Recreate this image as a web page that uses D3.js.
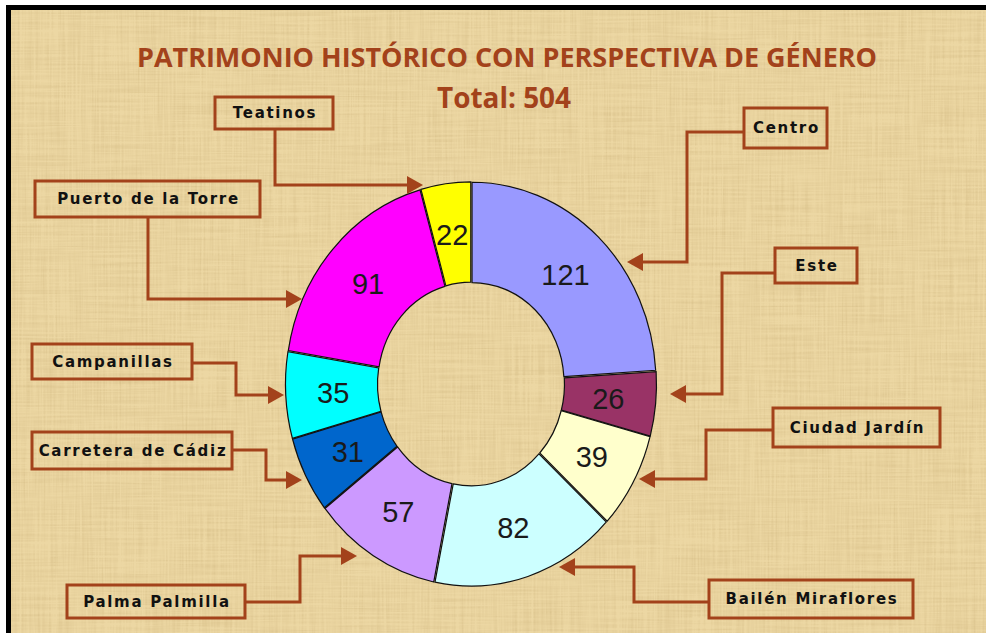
<!DOCTYPE html>
<html>
<head>
<meta charset="utf-8">
<script src="https://cdn.jsdelivr.net/npm/d3@7"></script>
<style>
  html, body { margin: 0; padding: 0; background: #fff; }
  svg { display: block; }
</style>
</head>
<body>
<svg id="chart" width="986" height="633"></svg>
<script>
// data
const districts = ["Centro", "Este", "Ciudad Jardín", "Bailén Miraflores", "Palma Palmilla",
  "Carretera de Cádiz", "Campanillas", "Puerto de la Torre", "Teatinos"];
const counts = [121, 26, 39, 82, 57, 31, 35, 91, 22];
const colors = ["#9999ff", "#993366", "#ffffcc", "#ccffff", "#cc99ff",
  "#0066cc", "#00ffff", "#ff00ff", "#ffff00"];
const title = "PATRIMONIO HISTÓRICO CON PERSPECTIVA DE GÉNERO";

// callout layout: box [x, y, w, h] and elbow route ending at the arrow tip
const callouts = [
  { box: [744, 108, 83, 40],  route: [[744, 132], [687, 132], [687, 262], [627, 262]] },
  { box: [775, 248, 82, 35],  route: [[775, 273], [722, 273], [722, 394], [670, 394]] },
  { box: [773, 408, 167, 39], route: [[773, 430], [706, 430], [706, 479], [639, 479]] },
  { box: [709, 580, 204, 38], route: [[709, 602], [634, 602], [634, 567], [559, 567]] },
  { box: [67, 585, 178, 33],  route: [[245, 602], [300, 602], [300, 556], [357, 556]] },
  { box: [32, 432, 200, 37],  route: [[232, 450], [266, 450], [266, 480], [302, 480]] },
  { box: [32, 344, 160, 35],  route: [[192, 363], [236, 363], [236, 395], [284, 395]] },
  { box: [35, 181, 225, 36],  route: [[148, 217], [148, 299], [302, 299]] },
  { box: [215, 97, 118, 32],  route: [[275, 129], [275, 185], [423, 185]] }
];

const W = 986, H = 633;
const rust = "#a3421b";
const cx = 471, cy = 384, rOuter = 184, rInner = 92, yScale = 1.09;

const svg = d3.select("#chart");
const defs = svg.append("defs");

// parchment texture
const f = defs.append("filter").attr("id", "paper")
  .attr("x", 0).attr("y", 0).attr("width", "100%").attr("height", "100%");
f.append("feTurbulence").attr("type", "fractalNoise").attr("baseFrequency", "0.5 0.012")
  .attr("numOctaves", 3).attr("seed", 4).attr("result", "v");
f.append("feTurbulence").attr("type", "fractalNoise").attr("baseFrequency", "0.012 0.5")
  .attr("numOctaves", 3).attr("seed", 9).attr("result", "h");
f.append("feComposite").attr("in", "v").attr("in2", "h").attr("operator", "arithmetic")
  .attr("k2", 0.5).attr("k3", 0.5).attr("result", "n");
f.append("feColorMatrix").attr("in", "n").attr("type", "matrix")
  .attr("values", "0 0 0 0 0.62  0 0 0 0 0.46  0 0 0 0 0.2  1.2 0 0 0 -0.45")
  .attr("result", "tint");
const fm = f.append("feMerge");
fm.append("feMergeNode").attr("in", "SourceGraphic");
fm.append("feMergeNode").attr("in", "tint");

defs.append("marker").attr("id", "arrow")
  .attr("viewBox", "0 0 16 18").attr("refX", 8).attr("refY", 9)
  .attr("markerWidth", 16).attr("markerHeight", 18)
  .attr("markerUnits", "userSpaceOnUse").attr("orient", "auto")
  .append("path").attr("d", "M0,0L16,9L0,18Z").attr("fill", rust);

// frame
svg.append("rect").attr("x", 6).attr("y", 5).attr("width", W - 6).attr("height", H - 5).attr("fill", "#000");
svg.append("rect").attr("x", 11).attr("y", 10).attr("width", W - 11).attr("height", H - 10)
  .attr("fill", "#ecd7a3").attr("filter", "url(#paper)");

// titles
svg.append("text").attr("x", 507).attr("y", 67).attr("text-anchor", "middle")
  .attr("textLength", 740).attr("lengthAdjust", "spacingAndGlyphs")
  .style("font", "bold 27px 'Liberation Sans Narrow', 'Open Sans', sans-serif")
  .attr("fill", rust).text(title);
svg.append("text").attr("x", 504).attr("y", 108).attr("text-anchor", "middle")
  .attr("textLength", 134).attr("lengthAdjust", "spacingAndGlyphs")
  .style("font", "bold 28px 'Liberation Sans Narrow', 'Open Sans', sans-serif")
  .attr("fill", rust).text("Total: " + d3.sum(counts));

// donut
const pie = d3.pie().sort(null).value(d => d);
const arcs = pie(counts);
const arc = d3.arc().innerRadius(rInner).outerRadius(rOuter);
const labelArc = d3.arc().innerRadius((rInner + rOuter) / 2).outerRadius((rInner + rOuter) / 2);

const g = svg.append("g").attr("transform", `translate(${cx},${cy}) scale(1,${yScale})`);
g.selectAll("path").data(arcs).join("path")
  .attr("transform", d => {
    const a = (d.startAngle + d.endAngle) / 2;
    return `translate(${Math.sin(a) * 1.5},${-Math.cos(a) * 1.5})`;
  })
  .attr("d", arc)
  .attr("fill", (d, i) => colors[i])
  .attr("stroke", "#111").attr("stroke-width", 1.2)
  .attr("vector-effect", "non-scaling-stroke");

svg.append("g").selectAll("text").data(arcs).join("text")
  .attr("x", d => cx + labelArc.centroid(d)[0])
  .attr("y", d => cy + labelArc.centroid(d)[1] * yScale)
  .attr("dy", "0.36em").attr("text-anchor", "middle")
  .style("font", "29px 'Liberation Sans', Arial, sans-serif")
  .attr("fill", "#1a1a1a")
  .text(d => d.data);

// callouts
const line = d3.line();
const cg = svg.append("g").selectAll("g").data(callouts).join("g");
cg.append("path")
  .attr("d", c => {
    const pts = c.route.map(p => p.slice());
    const n = pts.length, a = pts[n - 2], b = pts[n - 1];
    const len = Math.hypot(b[0] - a[0], b[1] - a[1]);
    b[0] -= (b[0] - a[0]) / len * 8;
    b[1] -= (b[1] - a[1]) / len * 8;
    return line(pts);
  })
  .attr("fill", "none").attr("stroke", rust).attr("stroke-width", 3)
  .attr("marker-end", "url(#arrow)");
cg.append("rect")
  .attr("x", c => c.box[0]).attr("y", c => c.box[1])
  .attr("width", c => c.box[2]).attr("height", c => c.box[3])
  .attr("fill", "none").attr("stroke", rust).attr("stroke-width", 3);
cg.append("text")
  .attr("x", c => c.box[0] + c.box[2] / 2 + 1)
  .attr("y", c => c.box[1] + c.box[3] / 2)
  .attr("dy", "0.36em").attr("text-anchor", "middle")
  .style("font", "bold 15px 'DejaVu Sans', Verdana, sans-serif")
  .style("letter-spacing", "1.7px")
  .attr("fill", "#111")
  .text((c, i) => districts[i]);
</script>
</body>
</html>
